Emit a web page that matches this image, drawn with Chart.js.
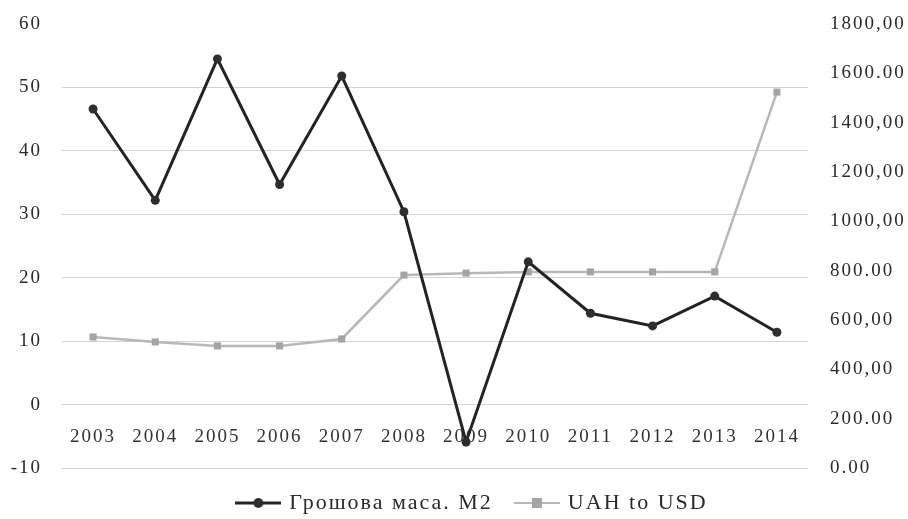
<!DOCTYPE html>
<html>
<head>
<meta charset="utf-8">
<script src="https://cdn.jsdelivr.net/npm/chart.js@4.4.1/dist/chart.umd.min.js"></script>
<style>
  html, body { margin: 0; padding: 0; background: #fff; }
  #wrap { width: 908px; height: 519px; }
</style>
</head>
<body>
<div id="wrap"><canvas id="moneyChart"></canvas></div>
<script>
// data
const years = ['2003', '2004', '2005', '2006', '2007', '2008', '2009', '2010', '2011', '2012', '2013', '2014'];
const m2Growth = [46.6, 32.2, 54.5, 34.7, 51.8, 30.4, -5.9, 22.5, 14.4, 12.4, 17.1, 11.4];
const uahToUsd = [531, 511, 495, 495, 523, 782, 790, 795, 795, 795, 795, 1524];
const rightTickLabels = ['0.00', '200.00', '400,00', '600,00', '800.00', '1000,00', '1200,00', '1400,00', '1600.00', '1800,00'];
const seriesNames = ['Грошова маса. M2', 'UAH to USD'];

const textColor = '#2a2a2a';
const serif = 'Liberation Serif, Times New Roman, serif';

// little legend icons: a line with the marker in the middle
function legendIcon(lineColor, fill, square) {
    const c = document.createElement('canvas');
    c.width = 46;
    c.height = 14;
    const g = c.getContext('2d');
    g.strokeStyle = lineColor;
    g.lineWidth = square ? 2 : 3;
    g.beginPath();
    g.moveTo(0, 7);
    g.lineTo(46, 7);
    g.stroke();
    g.fillStyle = fill;
    g.beginPath();
    if (square) {
        g.rect(18, 2, 10, 10);
    } else {
        g.arc(23, 7, 5, 0, Math.PI * 2);
    }
    g.fill();
    return c;
}

const spacing = {
    id: 'spacing',
    beforeLayout(chart) { chart.ctx.letterSpacing = '2px'; },
    // the legend in the picture sits a little right of centre
    afterLayout(chart) {
        if (chart.legend) {
            chart.legend.left += 19;
            chart.legend.right += 19;
        }
    },
    beforeDraw(chart) { chart.ctx.letterSpacing = '2px'; }
};

// invisible tick marks are used as the gap between labels and plot
const hiddenTicks = (len) => ({ drawTicks: true, tickLength: len, tickColor: 'rgba(0,0,0,0)' });

const ctx = document.getElementById('moneyChart').getContext('2d');
const chart = new Chart(ctx, {
    type: 'line',
    data: {
        labels: years,
        datasets: [{
            label: seriesNames[0],
            data: m2Growth,
            yAxisID: 'y',
            borderColor: '#232323',
            backgroundColor: '#2e2e2e',
            borderWidth: 3,
            pointStyle: 'circle',
            pointRadius: 4.5,
            pointBorderWidth: 0,
            tension: 0
        }, {
            label: seriesNames[1],
            data: uahToUsd,
            yAxisID: 'y1',
            borderColor: '#b8b8b8',
            backgroundColor: '#a4a4a4',
            borderWidth: 2.5,
            pointStyle: 'rect',
            pointRadius: 5,
            pointBorderWidth: 0,
            tension: 0
        }]
    },
    options: {
        responsive: true,
        maintainAspectRatio: false,
        animation: false,
        layout: { padding: { top: 24, left: 0, right: 0, bottom: 0 } },
        plugins: {
            tooltip: { enabled: false },
            legend: {
                position: 'bottom',
                maxHeight: 51,
                labels: {
                    color: textColor,
                    font: { family: serif, size: 22 },
                    usePointStyle: true,
                    pointStyleWidth: 40,
                    padding: 24,
                    generateLabels(ch) {
                        return [
                            { text: seriesNames[0], pointStyle: legendIcon('#232323', '#2e2e2e', false), datasetIndex: 0, fontColor: textColor, lineWidth: 0, strokeStyle: 'transparent', fillStyle: 'transparent' },
                            { text: seriesNames[1], pointStyle: legendIcon('#b8b8b8', '#a4a4a4', true), datasetIndex: 1, fontColor: textColor, lineWidth: 0, strokeStyle: 'transparent', fillStyle: 'transparent' }
                        ];
                    }
                }
            }
        },
        scales: {
            x: {
                type: 'category',
                position: { y: 0 },
                offset: true,
                grid: Object.assign({ display: true, drawOnChartArea: false }, hiddenTicks(21)),
                border: { display: false },
                ticks: {
                    color: '#333',
                    font: { family: serif, size: 19 },
                    padding: 0,
                    maxRotation: 0,
                    autoSkip: false
                }
            },
            y: {
                position: 'left',
                min: -10,
                max: 60,
                afterFit(scale) { scale.width = 62; },
                grid: Object.assign({
                    color: (c) => c.tick.value === 60 ? 'rgba(0,0,0,0)' : '#d4d4d4',
                    lineWidth: 1
                }, hiddenTicks(20)),
                border: { display: false },
                ticks: {
                    stepSize: 10,
                    color: textColor,
                    font: { family: serif, size: 19 },
                    padding: 0
                }
            },
            y1: {
                position: 'right',
                min: 0,
                max: 1800,
                afterFit(scale) { scale.width = 100; },
                grid: Object.assign({ display: true, drawOnChartArea: false }, hiddenTicks(22)),
                border: { display: false },
                ticks: {
                    stepSize: 200,
                    color: textColor,
                    font: { family: serif, size: 19 },
                    padding: 0,
                    callback: (value, index) => rightTickLabels[index]
                }
            }
        }
    },
    plugins: [spacing]
});
</script>
</body>
</html>
